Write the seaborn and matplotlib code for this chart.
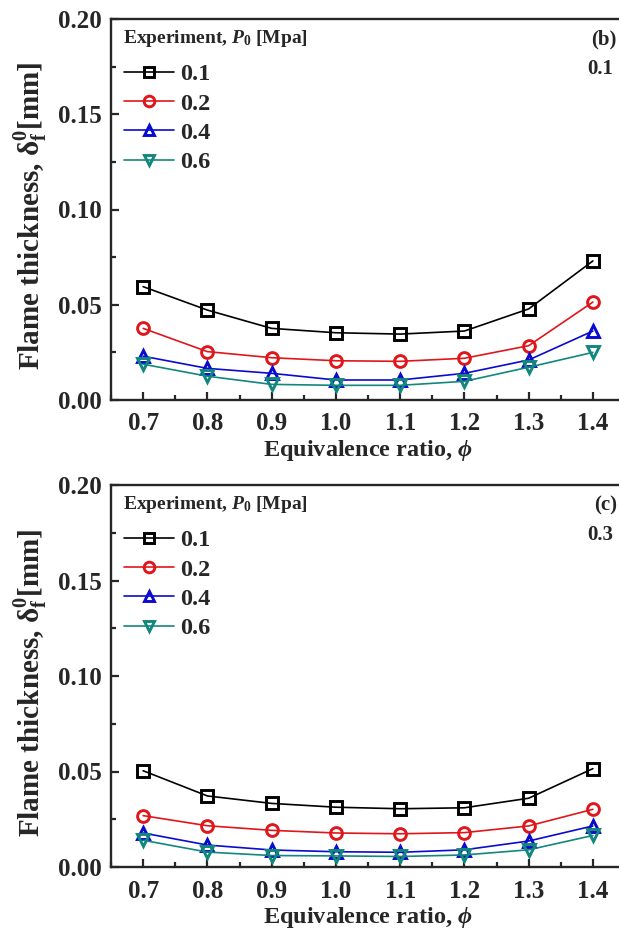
import numpy as np
import pandas as pd
import matplotlib
matplotlib.use("Agg")
import matplotlib.pyplot as plt
import seaborn as sns
from matplotlib.ticker import MultipleLocator, FormatStrFormatter

# ---------------- data ----------------
phi = [0.7, 0.8, 0.9, 1.0, 1.1, 1.2, 1.3, 1.4]
pressures = ["0.1", "0.2", "0.4", "0.6"]

# panel (b)
b_p01 = [0.0595, 0.0472, 0.0376, 0.0353, 0.0346, 0.0362, 0.0478, 0.0730]
b_p02 = [0.0376, 0.0254, 0.0222, 0.0206, 0.0203, 0.0219, 0.0285, 0.0514]
b_p04 = [0.0230, 0.0166, 0.0140, 0.0105, 0.0105, 0.0140, 0.0210, 0.0362]
b_p06 = [0.0188, 0.0125, 0.0082, 0.0077, 0.0077, 0.0098, 0.0172, 0.0250]

# panel (c)
c_p01 = [0.0504, 0.0372, 0.0333, 0.0313, 0.0305, 0.0310, 0.0360, 0.0515]
c_p02 = [0.0269, 0.0216, 0.0192, 0.0178, 0.0174, 0.0180, 0.0215, 0.0302]
c_p04 = [0.0178, 0.0115, 0.0089, 0.0080, 0.0077, 0.0090, 0.0136, 0.0215]
c_p06 = [0.0140, 0.0078, 0.0060, 0.0058, 0.0055, 0.0063, 0.0090, 0.0165]

panel_tags = ["(b)", "(c)"]
panel_sub = ["0.1", "0.3"]
legend_title = r"Experiment, $P_0$ [Mpa]"

colors = ["#000000", "#e0161b", "#0a0ad0", "#12877d"]
markers = ["s", "o", "^", "v"]

# ---------------- style ----------------
sns.set_style("ticks")
plt.rcParams["font.family"] = ["Liberation Serif", "DejaVu Serif"]
plt.rcParams["font.weight"] = "bold"
plt.rcParams["mathtext.fontset"] = "custom"
plt.rcParams["mathtext.rm"] = "Liberation Serif:bold"
plt.rcParams["mathtext.it"] = "Liberation Serif:bold:italic"
plt.rcParams["mathtext.bf"] = "Liberation Serif:bold"
plt.rcParams["axes.linewidth"] = 1.7

W, H = 619, 939
fig = plt.figure(figsize=(W / 100, H / 100), dpi=100)

def frac_box(left_px, right_px, top_px, bottom_px):
    return [left_px / W, 1 - bottom_px / H, (right_px - left_px) / W, (bottom_px - top_px) / H]

axes_boxes = [frac_box(111, 625, 19, 400), frac_box(111, 625, 485, 867)]
series_sets = [[b_p01, b_p02, b_p04, b_p06], [c_p01, c_p02, c_p04, c_p06]]

for k in range(2):
    ax = fig.add_axes(axes_boxes[k])
    for vals, p, c, m in zip(series_sets[k], pressures, colors, markers):
        df = pd.DataFrame({"phi": phi, "delta": vals})
        sns.lineplot(data=df, x="phi", y="delta", ax=ax, color=c, lw=1.2,
                     marker=m, markersize=8.5, markerfacecolor="none",
                     markeredgecolor=c, markeredgewidth=2.1, label=p)
    ax.set_xlim(0.65, 1.45)
    ax.set_ylim(0.0, 0.20)
    ax.xaxis.set_major_locator(MultipleLocator(0.1))
    ax.xaxis.set_minor_locator(MultipleLocator(0.05))
    ax.yaxis.set_major_locator(MultipleLocator(0.05))
    ax.yaxis.set_minor_locator(MultipleLocator(0.025))
    ax.xaxis.set_major_formatter(FormatStrFormatter("%.1f"))
    ax.yaxis.set_major_formatter(FormatStrFormatter("%.2f"))
    ax.tick_params(which="both", direction="in", top=False, right=False, width=1.6)
    ax.tick_params(which="major", length=6, labelsize=18)
    ax.tick_params(axis="x", which="major", pad=9)
    ax.tick_params(axis="y", which="major", pad=7)
    ax.tick_params(which="minor", length=3.5)
    for lab in ax.get_xticklabels() + ax.get_yticklabels():
        lab.set_fontweight("bold")
    ax.set_xlabel(r"Equivalence ratio, $\phi$", fontsize=17.5, fontweight="bold", labelpad=2)
    ax.set_ylabel(r"Flame thickness, $\mathrm{\delta}_\mathrm{f}^\mathrm{0}$[mm]",
                  fontsize=21, fontweight="bold")
    ax.yaxis.set_label_coords(-0.118, 0.483)
    leg = ax.legend(loc="upper left", bbox_to_anchor=(0.026, 0.884), frameon=False,
                    prop={"size": 17.5, "weight": "bold"}, handlelength=2.05,
                    handletextpad=0.25, labelspacing=0.3, borderaxespad=0, borderpad=0,
                    markerscale=0.9)
    ax.text(0.023, 0.95, legend_title, transform=ax.transAxes, ha="left", va="center",
            fontsize=14, fontweight="bold")
    ax.text(0.984, 0.947, panel_tags[k], transform=ax.transAxes, ha="right", va="center",
            fontsize=15, fontweight="bold")
    ax.text(0.977, 0.868, panel_sub[k], transform=ax.transAxes, ha="right", va="center",
            fontsize=15, fontweight="bold")

fig.savefig("out.png", dpi=100)
